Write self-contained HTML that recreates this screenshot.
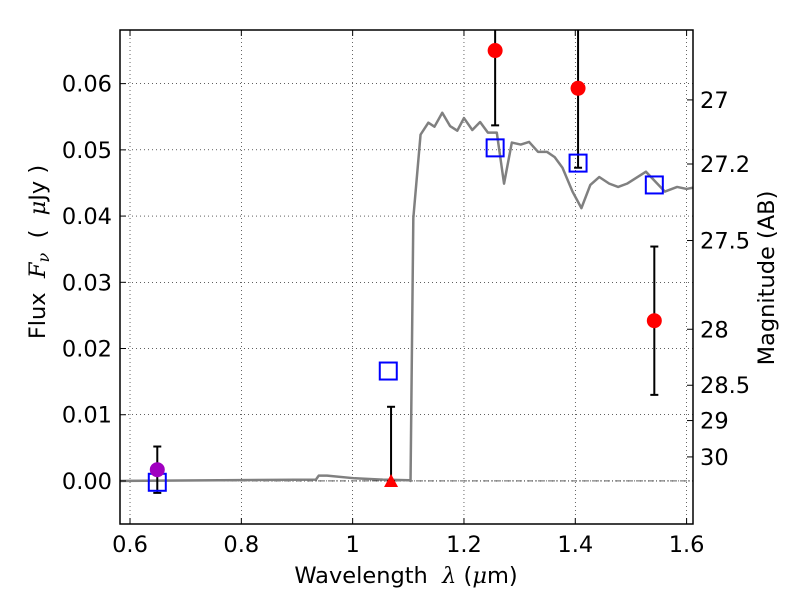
<!DOCTYPE html>
<html><head><meta charset="utf-8"><style>
html,body{margin:0;padding:0;background:#fff;}
svg text{font-family:"DejaVu Sans","Liberation Sans",sans-serif;}
</style></head><body>
<svg id="chart" width="800" height="600" xmlns="http://www.w3.org/2000/svg"></svg>
<script>
const xTicks=[0.6,0.8,1.0,1.2,1.4,1.6];
const xTickLabels=["0.6","0.8","1","1.2","1.4","1.6"];
const yTicks=[0,0.01,0.02,0.03,0.04,0.05,0.06];
const yTickLabels=["0.00","0.01","0.02","0.03","0.04","0.05","0.06"];
const magTicks=[27,27.2,27.5,28,28.5,29,30];
const magTickLabels=["27","27.2","27.5","28","28.5","29","30"];
const modelLambda=[0.582,0.934,0.939,0.954,1.004,1.054,1.102,1.104,1.109,1.122,1.136,1.147,1.161,1.175,1.188,1.200,1.215,1.229,1.243,1.259,1.272,1.286,1.302,1.317,1.333,1.349,1.363,1.377,1.395,1.411,1.427,1.443,1.461,1.477,1.493,1.527,1.561,1.583,1.600,1.612];
const modelFlux=[0,0.0002,0.0008,0.0008,0.0004,0.0002,0.0001,0,0.0397,0.0523,0.0541,0.0535,0.0556,0.0536,0.0529,0.0548,0.0530,0.0542,0.0526,0.0526,0.0449,0.0511,0.0508,0.0512,0.0497,0.0497,0.0489,0.0473,0.0437,0.0412,0.0447,0.0459,0.0449,0.0444,0.0449,0.0467,0.0437,0.0444,0.0441,0.0443];
const synthLambda=[0.649,1.064,1.256,1.405,1.542];
const synthFlux=[-0.0002,0.0166,0.0503,0.0480,0.0447];
const obsLambda=[1.256,1.405,1.542];
const obsFlux=[0.065,0.0593,0.0242];
const obsErr=[0.0113,0.012,0.0112];
const limLambda=[1.069];
const limFlux=[0];
const limErr=[0.0112];
const purpleLambda=[0.649];
const purpleFlux=[0.0017];
const purpleErr=[0.0035];

const L=120,R=693,T=30,B=524;
const XMIN=0.582,XMAX=1.6115,YMIN=-0.0065,YMAX=0.0681;
const xs=v=>L+(v-XMIN)/(XMAX-XMIN)*(R-L);
const ys=v=>B-(v-YMIN)/(YMAX-YMIN)*(B-T);
const magToFlux=m=>Math.pow(10,(23.9-m)/2.5);
const svg=document.getElementById('chart');
const NS="http://www.w3.org/2000/svg";
function mk(tag,attrs,parent){const e=document.createElementNS(NS,tag);for(const k in attrs)e.setAttribute(k,attrs[k]);(parent||svg).appendChild(e);return e;}

const grid=mk('g',{});


xTicks.forEach(t=>{const l=mk('line',{x1:xs(t),x2:xs(t),y1:T,y2:B,stroke:'#000','stroke-width':0.6,'stroke-dasharray':'1,3'},grid);

});
yTicks.forEach(t=>{const l=mk('line',{x1:L,x2:R,y1:ys(t),y2:ys(t),stroke:'#000','stroke-width':0.6,'stroke-dasharray':'1,3'},grid);

});
const zl=mk('line',{x1:L,x2:R,y1:ys(0),y2:ys(0),stroke:'#000','stroke-width':0.7,'stroke-dasharray':'6,2,1,2'});



const pts=modelLambda.map((l,i)=>xs(l)+','+ys(modelFlux[i])).join(' ');
const model=mk('polyline',{points:pts,fill:'none',stroke:'#808080','stroke-width':2.5,'stroke-linejoin':'round'});



function errbar(x,lo,hi,name){const g=mk('g',{});


mk('line',{x1:x,x2:x,y1:Math.max(T,ys(hi)),y2:ys(lo),stroke:'#000','stroke-width':2},g);
[hi,lo].forEach(v=>{if(v<YMAX)mk('line',{x1:x-4,x2:x+4,y1:ys(v),y2:ys(v),stroke:'#000','stroke-width':2},g);});}

obsLambda.forEach((l,i)=>errbar(xs(l),obsFlux[i]-obsErr[i],obsFlux[i]+obsErr[i],'obs-errorbar'));
limLambda.forEach((l,i)=>errbar(xs(l),limFlux[i],limFlux[i]+limErr[i],'limit-errorbar'));
purpleLambda.forEach((l,i)=>errbar(xs(l),purpleFlux[i]-purpleErr[i],purpleFlux[i]+purpleErr[i],'purple-errorbar'));

synthLambda.forEach((l,i)=>{const r=mk('rect',{x:xs(l)-8.5,y:ys(synthFlux[i])-8.5,width:17,height:17,fill:'none',stroke:'#0000ff','stroke-width':2});

});
obsLambda.forEach((l,i)=>{const c=mk('circle',{cx:xs(l),cy:ys(obsFlux[i]),r:7.5,fill:'#ff0000'});

});
limLambda.forEach((l,i)=>{const x=xs(l),y=ys(limFlux[i]);const p=mk('polygon',{points:`${x-7},${y+6} ${x+7},${y+6} ${x},${y-7}`,fill:'#ff0000'});

});
purpleLambda.forEach((l,i)=>{const c=mk('circle',{cx:xs(l),cy:ys(purpleFlux[i]),r:7.5,fill:'#a000c0'});

});

const frame=mk('rect',{x:L,y:T,width:R-L,height:B-T,fill:'none',stroke:'#000','stroke-width':1.5});



xTicks.forEach((t,i)=>{const x=xs(t);mk('line',{x1:x,x2:x,y1:B,y2:B-6,stroke:'#000'});mk('line',{x1:x,x2:x,y1:T,y2:T+6,stroke:'#000'});
const tx=mk('text',{x:x,y:B+28,'font-size':22.5,'text-anchor':'middle'});tx.textContent=xTickLabels[i];

});
yTicks.forEach((t,i)=>{const y=ys(t);mk('line',{x1:L,x2:L+6,y1:y,y2:y,stroke:'#000'});
const tx=mk('text',{x:L-8,y:y+8,'font-size':22.5,'text-anchor':'end'});tx.textContent=yTickLabels[i];

});
magTicks.forEach((m,i)=>{const y=ys(magToFlux(m));mk('line',{x1:R-6,x2:R,y1:y,y2:y,stroke:'#000'});
const tx=mk('text',{x:R+7,y:y+8,'font-size':22.5});tx.textContent=magTickLabels[i];

});

const xl=mk('text',{x:406,y:583,'font-size':22.5,'text-anchor':'middle','xml:space':'preserve'});
xl.innerHTML='Wavelength&#160;&#160;<tspan font-style="italic" font-family="DejaVu Serif,serif">λ</tspan> (<tspan font-style="italic" font-family="DejaVu Serif,serif">μ</tspan>m)';


const yl=mk('text',{x:0,y:0,'font-size':22.5,'text-anchor':'middle',transform:'translate(45,252) rotate(-90)'});
yl.innerHTML='Flux&#160;&#160;<tspan font-style="italic" font-family="DejaVu Serif,serif">F</tspan><tspan font-style="italic" font-family="DejaVu Serif,serif" font-size="16" dy="4">ν</tspan><tspan dy="-4">&#160;&#160;(&#160;&#160;</tspan><tspan font-style="italic" font-family="DejaVu Serif,serif">μ</tspan>Jy )';


const rl=mk('text',{x:0,y:0,'font-size':22.5,'text-anchor':'middle',transform:'translate(774,278) rotate(-90)'});
rl.textContent='Magnitude (AB)';


</script>
</body></html>
